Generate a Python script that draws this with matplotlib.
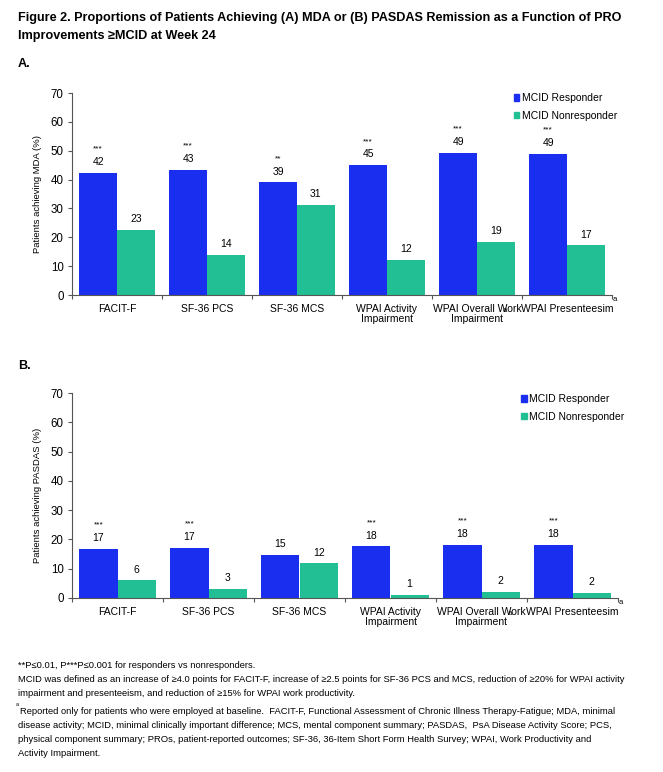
import numpy as np
import matplotlib.pyplot as plt
from matplotlib.patches import Patch

plt.rcParams['font.family'] = ['Liberation Sans', 'DejaVu Sans']

# data
categories = ["FACIT-F", "SF-36 PCS", "SF-36 MCS", "WPAI Activity\nImpairment",
              "WPAI Overall Work\nImpairment", "WPAI Presenteesim"]

mda_resp = [42.3, 43.4, 39.0, 45.0, 49.2, 49.0]
mda_nonresp = [22.6, 13.8, 31.2, 12.1, 18.5, 17.2]
mda_resp_lbl = ["42", "43", "39", "45", "49", "49"]
mda_nonresp_lbl = ["23", "14", "31", "12", "19", "17"]
mda_stars = ["***", "***", "**", "***", "***", "***"]

pasdas_resp = [16.7, 17.1, 14.6, 17.6, 18.2, 18.2]
pasdas_nonresp = [6.0, 3.1, 11.8, 1.0, 2.1, 1.7]
pasdas_resp_lbl = ["17", "17", "15", "18", "18", "18"]
pasdas_nonresp_lbl = ["6", "3", "12", "1", "2", "2"]
pasdas_stars = ["***", "***", "", "***", "***", "***"]

BLUE = "#1A2EF0"
GREEN = "#22BF95"
AXC = "#555555"

W, H = 663, 772
fig = plt.figure(figsize=(W / 100, H / 100), dpi=100)


def px(x, y):
    return x / W, 1 - y / H


def draw_panel(rect, resp, nonresp, resp_lbl, nonresp_lbl, stars, ylabel, leg_xy):
    ax = fig.add_axes(rect)
    x = np.arange(len(categories))
    bw = 0.42
    ax.bar(x - bw / 2, resp, bw, color=BLUE, linewidth=0)
    ax.bar(x + bw / 2, nonresp, bw, color=GREEN, linewidth=0)
    for i in range(len(x)):
        ax.text(x[i] - bw / 2, resp[i] + 2.0, resp_lbl[i], ha="center", va="bottom", fontsize=7.5)
        ax.text(x[i] + bw / 2, nonresp[i] + 2.0, nonresp_lbl[i], ha="center", va="bottom", fontsize=7.5)
        if stars[i]:
            ax.text(x[i] - bw / 2, resp[i] + 7.0, stars[i], ha="center", va="bottom", fontsize=6)
    ax.set_xlim(-0.5, len(x) - 0.5)
    ax.set_ylim(0, 70)
    ax.set_yticks(range(0, 71, 10))
    ax.tick_params(axis="y", labelsize=8.3, length=3, color=AXC, pad=3)
    ax.set_xticks(np.arange(-0.5, len(x), 1.0))
    ax.set_xticklabels([])
    ax.tick_params(axis="x", length=3, direction="out", color=AXC)
    for i, c in enumerate(categories):
        ax.text(x[i], -3.0, c, ha="center", va="top", fontsize=7.5, linespacing=1.05)
    # superscript "a" markers on WPAI work labels
    ax.text(4.29, -5.2, "a", fontsize=5.5, ha="left", va="center")
    ax.text(5.51, -1.7, "a", fontsize=5.5, ha="left", va="center")
    for s in ["top", "right"]:
        ax.spines[s].set_visible(False)
    for s in ["left", "bottom"]:
        ax.spines[s].set_color(AXC)
        ax.spines[s].set_linewidth(0.8)
    ax.set_ylabel(ylabel, fontsize=6.8, labelpad=6)
    handles = [Patch(color=BLUE), Patch(color=GREEN)]
    ax.legend(handles, ["MCID Responder", "MCID Nonresponder"], loc="upper left",
              bbox_to_anchor=leg_xy, frameon=False, fontsize=7.5,
              handlelength=0.55, handleheight=0.55, handletextpad=0.25,
              labelspacing=0.75, borderaxespad=0)
    return ax


# panel A
l, b = px(72, 295)
draw_panel([l, b, 540 / W, 202 / H], mda_resp, mda_nonresp, mda_resp_lbl,
           mda_nonresp_lbl, mda_stars, "Patients achieving MDA (%)", (0.81, 1.02))

# panel B
l, b = px(72, 598)
draw_panel([l, b, 546 / W, 205 / H], pasdas_resp, pasdas_nonresp, pasdas_resp_lbl,
           pasdas_nonresp_lbl, pasdas_stars, "Patients achieving PASDAS (%)", (0.815, 1.015))

# title and panel letters
tfont = ['Liberation Sans', 'DejaVu Sans']
fig.text(*px(18, 18), "Figure 2. Proportions of Patients Achieving (A) MDA or (B) PASDAS Remission as a Function of PRO",
         fontsize=9.05, fontweight="bold", va="center", family=tfont)
fig.text(*px(18, 36), "Improvements \u2265MCID at Week 24", fontsize=9.05, fontweight="bold", va="center", family=tfont)
fig.text(*px(18, 64), "A.", fontsize=9.05, fontweight="bold", va="center", family=tfont)
fig.text(*px(18, 366), "B.", fontsize=9.05, fontweight="bold", va="center", family=tfont)

# footnotes
notes = [
    (665, "**P\u22640.01, P***P\u22640.001 for responders vs nonresponders."),
    (680, "MCID was defined as an increase of \u22654.0 points for FACIT-F, increase of \u22652.5 points for SF-36 PCS and MCS, reduction of \u226520% for WPAI activity"),
    (694, "impairment and presenteeism, and reduction of \u226515% for WPAI work productivity."),
    (711, "Reported only for patients who were employed at baseline.  FACIT-F, Functional Assessment of Chronic Illness Therapy-Fatigue; MDA, minimal"),
    (725, "disease activity; MCID, minimal clinically important difference; MCS, mental component summary; PASDAS,  PsA Disease Activity Score; PCS,"),
    (739, "physical component summary; PROs, patient-reported outcomes; SF-36, 36-Item Short Form Health Survey; WPAI, Work Productivity and"),
    (753, "Activity Impairment."),
]
for y, t in notes:
    x0 = 20 if t.startswith("Reported") else 18
    fig.text(*px(x0, y), t, fontsize=6.75, va="center", family=tfont)
fig.text(*px(16, 704), "a", fontsize=4, va="center", family=tfont)

fig.savefig("out.png", dpi=100)
